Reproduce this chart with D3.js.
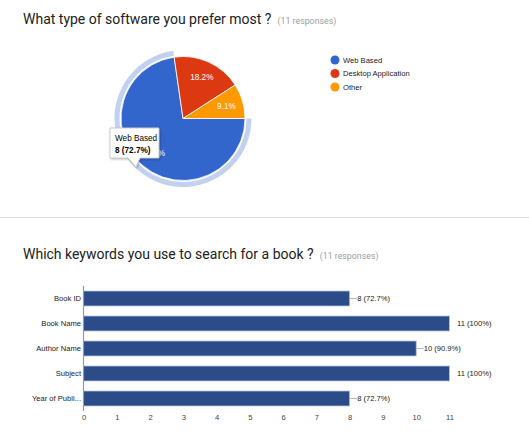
<!DOCTYPE html>
<html><head><meta charset="utf-8">
<script src="https://cdn.jsdelivr.net/npm/d3@7"></script>
<style>
html,body{margin:0;padding:0;background:#fff;}
svg{display:block;}
</style></head>
<body>
<svg id="chart" width="529" height="444"></svg>
<script>
// Pie data
const pieTitle = "What type of software you prefer most ?";
const pieCategories = ["Web Based", "Desktop Application", "Other"];
const pieValues = [8, 2, 1];
const pieColors = ["#3366cc", "#dc3912", "#ff9900"];

// Bar data
const barTitle = "Which keywords you use to search for a book ?";
const barCategories = ["Book ID", "Book Name", "Author Name", "Subject", "Year of Publi..."];
const barValues = [8, 11, 10, 11, 8];
const barLabels = ["8 (72.7%)", "11 (100%)", "10 (90.9%)", "11 (100%)", "8 (72.7%)"];
const xTicks = [0,1,2,3,4,5,6,7,8,9,10,11];
const responses = "(11 responses)";

const svg = d3.select("#chart");
const titleFont = "Roboto, 'Liberation Sans', Arial, sans-serif";
const chartFont = "'Liberation Sans', Arial, sans-serif";

function title(x, y, t) {
  const g = svg.append("text").attr("x", x).attr("y", y)
    .attr("font-family", titleFont).attr("font-size", 14).attr("fill", "#212121");
  g.append("tspan").text(t);
  g.append("tspan").attr("dx", 6).attr("font-size", 8.8).attr("fill", "#9e9e9e").text(responses);
}
title(23, 24, pieTitle);
title(23, 259, barTitle);

// divider
svg.append("line").attr("x1", 0).attr("x2", 529).attr("y1", 217.5).attr("y2", 217.5)
  .attr("stroke", "#e0e0e0").attr("stroke-width", 1);

// ---- Pie ----
const cx = 183, cy = 118.5, r = 62;
const pie = d3.pie().sort(null).value(d => d)
  .startAngle(Math.PI / 2).endAngle(Math.PI / 2 + 2 * Math.PI);
const arcs = pie(pieValues);
const arc = d3.arc().innerRadius(0).outerRadius(r);
const pg = svg.append("g").attr("transform", `translate(${cx},${cy})`);

// hover ring on first slice
pg.append("path")
  .attr("d", d3.arc().innerRadius(r + 1.5).outerRadius(r + 6.5)(arcs[0]))
  .attr("fill", "#c3d1f0");

pg.selectAll("path.slice").data(arcs).enter().append("path")
  .attr("class", "slice")
  .attr("d", arc)
  .attr("fill", (d, i) => pieColors[i])
  .attr("stroke", "#fff").attr("stroke-width", 0.8);

const labelArc = d3.arc().innerRadius(r * 0.73).outerRadius(r * 0.73);
pg.selectAll("text.pl").data(arcs).enter().append("text")
  .attr("class", "pl")
  .attr("transform", d => `translate(${labelArc.centroid(d)})`)
  .attr("text-anchor", "middle").attr("dy", "0.35em")
  .attr("font-family", chartFont).attr("font-size", 8.2)
  .attr("fill", "#fff")
  .text(d => (d.value / d3.sum(pieValues) * 100).toFixed(1) + "%");

// legend
const lg = svg.append("g");
pieCategories.forEach((c, i) => {
  const y = 60 + i * 13.5;
  lg.append("circle").attr("cx", 335).attr("cy", y).attr("r", 4.5).attr("fill", pieColors[i]);
  lg.append("text").attr("x", 343).attr("y", y).attr("dy", "0.35em")
    .attr("font-family", chartFont).attr("font-size", 7.6).attr("fill", "#222").text(c);
});

// tooltip
const tt = svg.append("g");
tt.append("path")
  .attr("d", "M110,128 H159 V158 H140 L136,167 L128,158 H110 Z")
  .attr("fill", "#fff").attr("stroke", "#cccccc").attr("stroke-width", 1)
  .style("filter", "drop-shadow(1px 1px 1px rgba(0,0,0,0.25))");
tt.append("text").attr("x", 115).attr("y", 141).attr("font-family", chartFont)
  .attr("font-size", 8.2).attr("fill", "#000").text(pieCategories[0]);
tt.append("text").attr("x", 115).attr("y", 152.5).attr("font-family", chartFont)
  .attr("font-size", 8.2).attr("font-weight", "bold").attr("fill", "#000")
  .text(`${pieValues[0]} (${(pieValues[0] / d3.sum(pieValues) * 100).toFixed(1)}%)`);

// ---- Bars ----
const x = d3.scaleLinear().domain([0, 11]).range([83.5, 449.5]);
const y = d3.scaleBand().domain(barCategories).range([286, 411]).paddingInner(0.4).paddingOuter(0.2);
const bg = svg.append("g");

bg.selectAll("rect").data(barCategories).enter().append("rect")
  .attr("x", x(0)).attr("y", d => y(d))
  .attr("width", (d, i) => x(barValues[i]) - x(0))
  .attr("height", y.bandwidth())
  .attr("fill", "#2b4c89").attr("stroke", "#b9c3d6").attr("stroke-width", 0.8);

// leader lines + value labels
barCategories.forEach((c, i) => {
  const xe = x(barValues[i]);
  const yc = y(c) + y.bandwidth() / 2;
  bg.append("line").attr("x1", xe).attr("x2", xe + 7.5).attr("y1", yc).attr("y2", yc)
    .attr("stroke", barValues[i] === 11 ? "#fff" : "#bbbbbb").attr("stroke-width", 1);
  bg.append("text").attr("x", xe + 7.5).attr("y", yc).attr("dy", "0.35em")
    .attr("font-family", chartFont).attr("font-size", 7.6).attr("fill", "#222").text(barLabels[i]);
});

// y axis
const yAxis = d3.axisLeft(y).tickSize(0).tickPadding(2.5);
const ya = svg.append("g").attr("transform", `translate(${x(0)},0)`).call(yAxis);
ya.select(".domain").attr("stroke", "#999").attr("stroke-width", 1.2).attr("d", "M0,286V411");
ya.selectAll("text").attr("font-family", chartFont).attr("font-size", 7.6).attr("fill", "#222");

// x axis
const xAxis = d3.axisBottom(x).tickValues(xTicks).tickSize(0).tickPadding(4);
const xa = svg.append("g").attr("transform", `translate(0,411)`).call(xAxis);
xa.select(".domain").remove();
xa.selectAll("text").attr("font-family", chartFont).attr("font-size", 7.6).attr("fill", "#444");
</script>
</body></html>
